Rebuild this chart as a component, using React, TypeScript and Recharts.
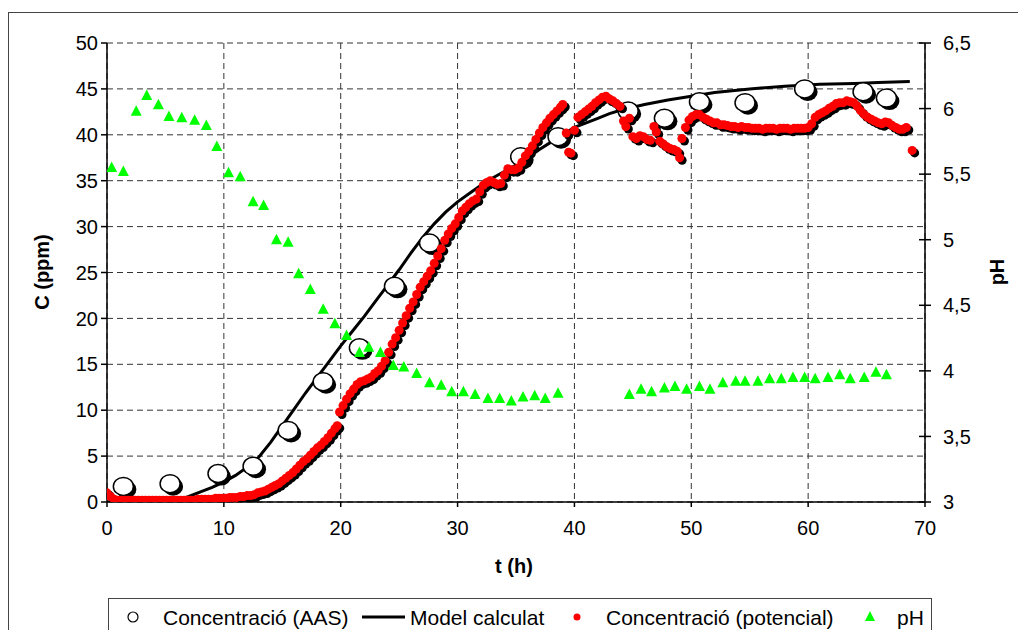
import React from 'react';
import { ComposedChart, Scatter, XAxis, YAxis, CartesianGrid } from 'recharts';

// Concentració (AAS)
const aasT = [1.4, 5.4, 9.5, 12.5, 15.5, 18.5, 21.6, 24.6, 27.6, 35.4, 38.6, 44.6, 47.7, 50.7, 54.6, 59.7, 64.7, 66.7];
const aasC = [1.7, 2.0, 3.1, 3.9, 7.8, 13.1, 16.8, 23.5, 28.2, 37.6, 39.8, 42.6, 41.8, 43.6, 43.5, 45.0, 44.7, 44.0];

// Model calculat
const modelT = [0, 2, 4, 5, 6, 7, 8, 9, 10, 11, 12, 13, 14, 15, 16, 17, 18, 19, 20, 21, 22, 23, 24, 25, 26, 27, 28, 29, 30, 31, 32, 33, 34, 35, 36, 37, 38, 39, 40, 41, 42, 43, 44, 46, 48, 50, 52, 55, 58, 61, 64, 66, 68.7];
const modelC = [0, 0, 0, 0.05, 0.2, 0.6, 1.1, 1.6, 2.2, 2.9, 3.8, 4.9, 6.5, 8.3, 10.1, 11.9, 13.6, 15.3, 17.0, 18.6, 20.2, 21.9, 23.6, 25.3, 27.1, 28.8, 30.3, 31.6, 32.7, 33.6, 34.5, 35.3, 36.0, 36.7, 37.5, 38.4, 39.2, 40.0, 40.8, 41.3, 41.8, 42.3, 42.7, 43.3, 43.8, 44.2, 44.6, 45.0, 45.3, 45.5, 45.6, 45.7, 45.8];

// Concentració (potencial)
const potT = [
  0.0, 0.3, 0.6, 0.9, 1.2, 1.5, 1.8, 2.1, 2.4, 2.7,
  3.0, 3.3, 3.6, 3.9, 4.2, 4.5, 4.8, 5.1, 5.4, 5.7,
  6.0, 6.3, 6.6, 6.9, 7.2, 7.5, 7.8, 8.1, 8.4, 8.7,
  9.0, 9.3, 9.6, 9.9, 10.2, 10.5, 10.8, 11.1, 11.4, 11.7,
  12.0, 12.3, 12.6, 12.9, 13.2, 13.5, 13.8, 14.1, 14.4, 14.7,
  15.0, 15.3, 15.6, 15.9, 16.2, 16.5, 16.8, 17.1, 17.4, 17.7,
  18.0, 18.3, 18.6, 18.9, 19.2, 19.5,
  19.7, 19.9, 20.2, 20.5, 20.8, 21.1, 21.4, 21.7, 22.0, 22.3,
  22.6, 22.9, 23.2, 23.5, 23.8, 24.1, 24.4, 24.7, 25.0, 25.3,
  25.6, 25.9, 26.2, 26.5, 26.8, 27.1, 27.4, 27.7, 28.0, 28.3,
  28.6, 28.9, 29.2, 29.5, 29.8, 30.1, 30.4, 30.7, 31.0, 31.3,
  31.6, 31.9, 32.2, 32.5, 32.8, 33.1, 33.4, 33.7, 34.0, 34.3,
  34.6, 34.9, 35.2, 35.5, 35.8, 36.1, 36.4, 36.7, 37.0, 37.3,
  37.6, 37.9, 38.2, 38.5, 38.8, 39.0, 39.3, 39.5, 39.7, 40.0,
  40.3, 40.6, 40.9, 41.2, 41.5, 41.8, 42.1, 42.4, 42.7, 43.0,
  43.3, 43.6, 43.9, 44.2, 44.4, 44.7, 45.0, 45.3, 45.6, 45.9,
  46.2, 46.5, 46.8, 47.0, 47.3, 47.6, 47.9, 48.2, 48.5, 48.8,
  49.0, 49.2, 49.5, 49.8, 50.1, 50.4, 50.7, 51.0, 51.3, 51.6,
  51.9, 52.2, 52.5, 52.8, 53.1, 53.4, 53.7, 54.0, 54.3, 54.6,
  54.9, 55.2, 55.5, 55.8, 56.1, 56.4, 56.7, 57.0, 57.3, 57.6,
  57.9, 58.2, 58.5, 58.8, 59.1, 59.4, 59.7, 60.0, 60.3, 60.6,
  60.9, 61.2, 61.5, 61.8, 62.1, 62.4, 62.7, 63.0, 63.3, 63.6,
  63.9, 64.2, 64.5, 64.8, 65.1, 65.4, 65.7, 66.0, 66.3, 66.6,
  66.9, 67.2, 67.5, 67.8, 68.1, 68.4, 68.9,
];
const potC = [
  1.0, 0.6, 0.3, 0.2, 0.2, 0.2, 0.2, 0.2, 0.2, 0.2,
  0.2, 0.2, 0.2, 0.2, 0.2, 0.2, 0.2, 0.2, 0.2, 0.2,
  0.2, 0.2, 0.2, 0.2, 0.2, 0.2, 0.3, 0.3, 0.3, 0.3,
  0.3, 0.4, 0.4, 0.4, 0.4, 0.5, 0.5, 0.5, 0.6, 0.6,
  0.7, 0.7, 0.8, 1.0, 1.1, 1.2, 1.4, 1.6, 1.8, 2.0,
  2.3, 2.6, 2.9, 3.2, 3.6, 4.0, 4.4, 4.7, 5.1, 5.5,
  5.9, 6.2, 6.6, 7.0, 7.5, 8.0,
  8.3, 9.8, 10.5, 11.2, 11.8, 12.3, 12.8, 13.1, 13.2, 13.4,
  13.6, 14.0, 14.3, 14.8, 15.4, 16.3, 17.2, 17.9, 18.7, 19.5,
  20.3, 21.1, 21.8, 22.6, 23.4, 24.0, 24.6, 25.2, 26.0, 26.8,
  27.6, 28.5, 29.2, 29.8, 30.3, 31.0, 31.7, 32.1, 32.5, 32.8,
  33.0, 33.8, 34.5, 34.8, 35.0, 34.8, 34.6, 34.7, 35.6, 36.3,
  36.2, 36.2, 36.4, 37.0, 37.7, 38.2, 38.8, 39.5, 40.2, 40.8,
  41.3, 41.8, 42.2, 42.6, 43.0, 43.3, 40.2, 38.1, 38.0, 40.5,
  41.9, 42.2, 42.5, 42.8, 43.1, 43.5, 43.8, 44.1, 44.2, 43.9,
  43.7, 43.4, 43.1, 41.5, 40.9, 41.8, 39.8, 39.6, 39.9, 39.8,
  39.5, 39.4, 40.9, 40.3, 39.3, 39.0, 38.7, 38.5, 38.4, 38.2,
  37.5, 39.6, 40.8, 41.6, 42.0, 42.2, 42.2, 41.9, 41.7, 41.5,
  41.3, 41.3, 41.1, 41.1, 41.0, 40.9, 40.9, 40.8, 40.9, 40.8,
  40.8, 40.7, 40.7, 40.7, 40.6, 40.7, 40.7, 40.7, 40.6, 40.7,
  40.7, 40.7, 40.6, 40.7, 40.7, 40.7, 40.7, 40.8, 41.2, 41.9,
  42.2, 42.4, 42.6, 42.9, 43.1, 43.4, 43.5, 43.5, 43.7, 43.6,
  43.5, 43.1, 42.6, 42.2, 41.9, 41.7, 41.5, 41.3, 41.2, 41.4,
  41.3, 41.0, 40.8, 40.6, 40.6, 40.8, 38.3,
];

// pH
const phT = [0.4, 1.4, 2.5, 3.4, 4.4, 5.3, 6.4, 7.5, 8.5, 9.4, 10.4, 11.4, 12.5, 13.4, 14.5, 15.5, 16.4, 17.4, 18.5, 19.5, 20.5, 21.6, 22.4, 23.4, 24.5, 25.4, 26.5, 27.6, 28.6, 29.5, 30.5, 31.5, 32.6, 33.6, 34.6, 35.6, 36.6, 37.5, 38.6, 44.7, 45.7, 46.6, 47.7, 48.6, 49.6, 50.7, 51.6, 52.7, 53.8, 54.6, 55.7, 56.7, 57.7, 58.7, 59.7, 60.6, 61.7, 62.7, 63.6, 64.8, 65.8, 66.7];
const phV = [5.55, 5.52, 5.98, 6.10, 6.03, 5.94, 5.93, 5.91, 5.87, 5.71, 5.51, 5.48, 5.29, 5.26, 5.00, 4.98, 4.74, 4.62, 4.47, 4.36, 4.27, 4.14, 4.18, 4.14, 4.04, 4.03, 3.98, 3.91, 3.89, 3.84, 3.84, 3.82, 3.79, 3.79, 3.77, 3.80, 3.81, 3.79, 3.83, 3.82, 3.86, 3.84, 3.87, 3.88, 3.86, 3.88, 3.86, 3.91, 3.92, 3.92, 3.92, 3.94, 3.94, 3.95, 3.95, 3.94, 3.95, 3.97, 3.94, 3.95, 3.99, 3.97];

const xTicks = [0, 10, 20, 30, 40, 50, 60, 70];
const cTicks = [0, 5, 10, 15, 20, 25, 30, 35, 40, 45, 50];
const phTicks = [3, 3.5, 4, 4.5, 5, 5.5, 6, 6.5];

const legendLabels = ['Concentració (AAS)', 'Model calculat', 'Concentració (potencial)', 'pH'];

const zip = (ts: number[], vs: number[], key: string) =>
  ts.map((t, i) => ({ t, [key]: vs[i] })).filter((d: any) => d[key] !== undefined);

const aasData = zip(aasT, aasC, 'c');
const modelData = zip(modelT, modelC, 'c');
const potData = zip(potT, potC, 'c');
const phData = zip(phT, phV, 'ph');

const FONT = '"Liberation Sans", Arial, sans-serif';

const ok = (p: any) => typeof p.cx === 'number' && typeof p.cy === 'number' && !isNaN(p.cx) && !isNaN(p.cy);

const CircleShadow = (p: any) => (ok(p) ? <ellipse cx={p.cx + 3} cy={p.cy + 3} rx={10} ry={9} fill="#000" /> : <g />);
const CircleMark = (p: any) =>
  ok(p) ? <ellipse cx={p.cx} cy={p.cy} rx={10} ry={9} fill="#fff" stroke="#000" strokeWidth={1.5} /> : <g />;
const DotShadow = (p: any) => (ok(p) ? <circle cx={p.cx + 2.5} cy={p.cy + 2.5} r={4.5} fill="#000" /> : <g />);
const DotMark = (p: any) => (ok(p) ? <circle cx={p.cx} cy={p.cy} r={4.5} fill="#ff0000" /> : <g />);
const TriMark = (p: any) =>
  ok(p) ? (
    <polygon
      points={`${p.cx},${p.cy - 6} ${p.cx - 5.5},${p.cy + 4.5} ${p.cx + 5.5},${p.cy + 4.5}`}
      fill="#00ff00"
    />
  ) : (
    <g />
  );
const NoMark = () => <g />;

const RightTick = (p: any) => {
  const ax = p.x - 18;
  return (
    <g>
      <line x1={ax - 6} x2={ax + 6} y1={p.y} y2={p.y} stroke="#000" strokeWidth={1.5} />
      <text x={p.x} y={p.y} dy="0.355em" textAnchor="start" fontSize={20} fontFamily={FONT} fill="#000">
        {String(p.payload.value).replace('.', ',')}
      </text>
    </g>
  );
};

const tickStyle = { fontSize: 20, fontFamily: FONT, fill: '#000' };

export default function App() {
  return (
    <div style={{ position: 'absolute', left: 0, top: 0, width: 1018, height: 630, overflow: 'hidden', background: '#fff' }}>
      <div
        style={{
          position: 'absolute',
          left: 8,
          top: 12,
          width: 1100,
          height: 700,
          border: '1.5px solid #444',
          boxSizing: 'border-box',
        }}
      />
      <div style={{ position: 'absolute', left: 0, top: 0 }}>
        <ComposedChart width={1018} height={630} margin={{ top: 43, right: 33, bottom: 88, left: 47 }}>
          <CartesianGrid stroke="#333" strokeDasharray="6 4" strokeWidth={1} />
          <XAxis
            type="number"
            dataKey="t"
            domain={[0, 70]}
            ticks={xTicks}
            allowDataOverflow
            height={40}
            tickSize={5}
            tickMargin={14}
            tick={tickStyle}
            axisLine={{ stroke: '#000', strokeWidth: 1.5 }}
            tickLine={{ stroke: '#000', strokeWidth: 1.5 }}
          />
          <YAxis
            type="number"
            domain={[0, 50]}
            ticks={cTicks}
            allowDataOverflow
            width={60}
            tickSize={6}
            tickMargin={3}
            tick={tickStyle}
            axisLine={{ stroke: '#000', strokeWidth: 1.5 }}
            tickLine={{ stroke: '#000', strokeWidth: 1.5 }}
          />
          <YAxis
            yAxisId="ph"
            orientation="right"
            type="number"
            domain={[3, 6.5]}
            ticks={phTicks}
            allowDataOverflow
            width={60}
            tickSize={6}
            tickMargin={12}
            tick={<RightTick />}
            tickLine={false}
            axisLine={{ stroke: '#000', strokeWidth: 1.5 }}
          />
          <Scatter
            data={modelData}
            dataKey="c"
            line={{ stroke: '#000', strokeWidth: 3 }}
            lineType="joint"
            shape={NoMark}
            isAnimationActive={false}
          />
          <Scatter data={aasData} dataKey="c" shape={CircleShadow} isAnimationActive={false} />
          <Scatter data={aasData} dataKey="c" shape={CircleMark} isAnimationActive={false} />
          <Scatter data={potData} dataKey="c" shape={DotShadow} isAnimationActive={false} />
          <Scatter data={potData} dataKey="c" shape={DotMark} isAnimationActive={false} />
          <Scatter yAxisId="ph" data={phData} dataKey="ph" shape={TriMark} isAnimationActive={false} />
        </ComposedChart>
      </div>
      <svg width={1018} height={630} style={{ position: 'absolute', left: 0, top: 0, pointerEvents: 'none' }}>
        <text
          x={42}
          y={272}
          transform="rotate(-90 42 272)"
          textAnchor="middle"
          dominantBaseline="central"
          fontSize={20}
          fontWeight="bold"
          fontFamily={FONT}
          fill="#000"
        >
          C (ppm)
        </text>
        <text
          x={514}
          y={566}
          textAnchor="middle"
          dominantBaseline="central"
          fontSize={20}
          fontWeight="bold"
          fontFamily={FONT}
          fill="#000"
        >
          t (h)
        </text>
        <text
          x={997}
          y={272}
          transform="rotate(-90 997 272)"
          textAnchor="middle"
          dominantBaseline="central"
          fontSize={20}
          fontWeight="bold"
          fontFamily={FONT}
          fill="#000"
        >
          pH
        </text>
      </svg>
      <div
        style={{
          position: 'absolute',
          left: 108,
          top: 598,
          width: 824,
          height: 60,
          border: '1.5px solid #444',
          boxSizing: 'border-box',
          background: '#fff',
        }}
      />
      <svg width={1018} height={630} style={{ position: 'absolute', left: 0, top: 0, pointerEvents: 'none' }}>
        <circle cx={133} cy={617} r={5} fill="#fff" stroke="#000" strokeWidth={1.2} />
        <line x1={362} x2={405} y1={617} y2={617} stroke="#000" strokeWidth={3} />
        <circle cx={577} cy={617} r={3.5} fill="#ff0000" />
        <polygon points="870,611 865,621 875,621" fill="#00ff00" />
        {legendLabels.map((label, i) => (
          <text
            key={label}
            x={[163, 410, 606, 897][i]}
            y={617}
            dominantBaseline="central"
            fontSize={21}
            fontFamily={FONT}
            fill="#000"
          >
            {label}
          </text>
        ))}
      </svg>
    </div>
  );
}
